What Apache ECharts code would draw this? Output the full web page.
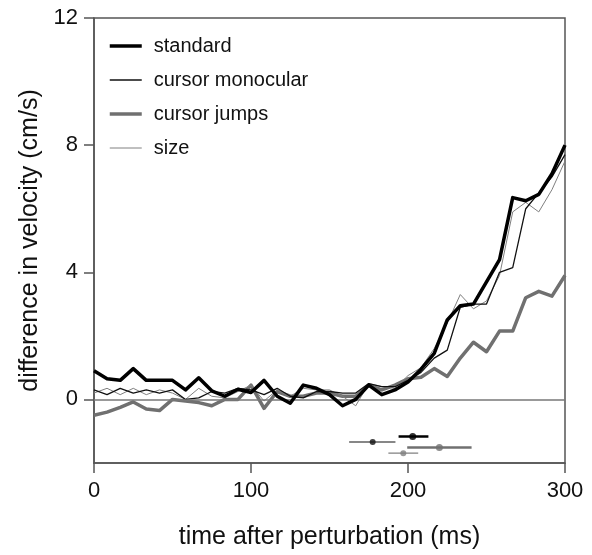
<!DOCTYPE html>
<html>
<head>
<meta charset="utf-8">
<script src="https://cdn.jsdelivr.net/npm/echarts@6/dist/echarts.min.js"></script>
<style>
  html, body { margin: 0; padding: 0; background: #fff; }
  #chart { width: 592px; height: 555px; }
</style>
</head>
<body>
<div id="chart"></div>
<script>
// sample times (ms), one every ~8.3 ms
const times = [0, 8.3, 16.7, 25, 33.3, 41.7, 50, 58.3, 66.7, 75, 83.3, 91.7, 100, 108.3, 116.7, 125,
    133.3, 141.7, 150, 158.3, 166.7, 175, 183.3, 191.7, 200, 208.3, 216.7, 225, 233.3, 241.7, 250,
    258.3, 266.7, 275, 283.3, 291.7, 300];

const standard = [0.9, 0.65, 0.6, 0.97, 0.6, 0.6, 0.6, 0.3, 0.68, 0.27, 0.1, 0.32, 0.22, 0.6, 0.1, -0.12,
    0.45, 0.35, 0.15, -0.2, 0.0, 0.45, 0.15, 0.3, 0.55, 0.95, 1.45, 2.5, 2.95, 3.0, 3.7,
    4.4, 6.35, 6.25, 6.45, 7.1, 8.0];
const cursorMonocular = [0.3, 0.15, 0.35, 0.2, 0.3, 0.2, 0.3, 0.0, 0.05, 0.25, 0.2, 0.35, 0.3, 0.15, 0.35, 0.1,
    0.05, 0.25, 0.25, 0.2, 0.2, 0.5, 0.4, 0.4, 0.6, 0.85, 1.3, 1.55, 2.9, 3.0, 3.0,
    4.0, 4.15, 6.0, 6.5, 7.0, 7.7];
const cursorJumps = [-0.5, -0.4, -0.25, -0.08, -0.3, -0.35, 0.0, -0.05, -0.1, -0.2, 0.0, 0.0, 0.45, -0.28, 0.25, 0.1,
    0.1, 0.2, 0.2, 0.1, 0.1, 0.45, 0.3, 0.45, 0.65, 0.7, 0.97, 0.72, 1.3, 1.8, 1.5,
    2.15, 2.15, 3.2, 3.4, 3.25, 3.9];
const size = [0.2, 0.35, 0.15, 0.35, 0.15, 0.3, 0.2, 0.0, 0.35, 0.1, 0.05, 0.25, 0.45, -0.05, 0.3, 0.1,
    0.35, 0.3, 0.3, 0.1, -0.2, 0.5, 0.4, 0.35, 0.75, 1.0, 1.6, 2.4, 3.3, 2.85, 3.1,
    3.9, 5.9, 6.2, 5.9, 6.6, 7.5];

// latency estimates shown under the curves (mean and range, ms)
const errNames = ['standard', 'cursor monocular', 'cursor jumps', 'size'];
const errMean = [203, 177.5, 220, 197];
const errLo = [194, 162.5, 199.5, 187.5];
const errHi = [213, 192, 240.5, 206.5];
const errY = [-1.17, -1.34, -1.51, -1.69];

const xTicks = [0, 100, 200, 300];
const yTicks = [0, 4, 8, 12];

const FONT = 'Liberation Sans, Arial, Helvetica, sans-serif';

const styles = {
    'standard': { color: '#000000', width: 3.5, dot: 7 },
    'cursor monocular': { color: '#111111', width: 1.3, dot: 6 },
    'cursor jumps': { color: '#707070', width: 3.5, dot: 7 },
    'size': { color: '#808080', width: 1.0, dot: 6 }
};

function pairs(ys) {
    return ys.map((v, i) => [times[i], v]);
}

function curve(name, ys, z) {
    const s = styles[name];
    return {
        name: name,
        type: 'line',
        data: pairs(ys),
        symbol: 'none',
        z: z,
        lineStyle: { color: s.color, width: s.width, join: 'round' },
        itemStyle: { color: s.color }
    };
}

const series = [
    curve('cursor jumps', cursorJumps, 2),
    curve('size', size, 3),
    curve('cursor monocular', cursorMonocular, 4),
    curve('standard', standard, 5)
];

// zero line
series[0].markLine = {
    silent: true,
    symbol: 'none',
    label: { show: false },
    lineStyle: { color: '#777', width: 1.5, type: 'solid' },
    data: [{ yAxis: 0 }]
};

// range bars + mean dots
errNames.forEach(function (n, i) {
    const s = styles[n];
    series.push({
        name: n + ' range',
        type: 'line',
        data: [[errLo[i], errY[i]], [errHi[i], errY[i]]],
        symbol: 'none',
        z: 6,
        lineStyle: { color: s.color, width: s.width > 2 ? 2.5 : 1.2 }
    });
    series.push({
        name: n + ' mean',
        type: 'scatter',
        data: [[errMean[i], errY[i]]],
        symbolSize: s.dot,
        z: 7,
        itemStyle: { color: s.color }
    });
});

const legendData = errNames.map(function (n) {
    return { name: n, lineStyle: { color: styles[n].color, width: styles[n].width } };
});

const chart = echarts.init(document.getElementById('chart'));

const option = {
    animation: false,
    backgroundColor: '#fff',
    textStyle: { fontFamily: FONT },
    grid: {
        left: 94, right: 27, top: 18, bottom: 90,
        show: true, borderColor: '#555', borderWidth: 1.5
    },
    legend: {
        data: legendData,
        orient: 'vertical',
        left: 108,
        top: 36,
        padding: 0,
        itemWidth: 32,
        itemHeight: 14,
        itemGap: 14,
        itemStyle: { opacity: 0 },
        textStyle: { fontFamily: FONT, fontSize: 20, color: '#111', padding: [0, 0, 0, 7] }
    },
    xAxis: {
        type: 'value',
        min: 0,
        max: 300,
        interval: 100,
        name: 'time after perturbation (ms)',
        nameLocation: 'middle',
        nameGap: 62,
        nameTextStyle: { fontFamily: FONT, fontSize: 25, color: '#111' },
        splitLine: { show: false },
        axisLine: { show: true, onZero: false, lineStyle: { color: '#555', width: 1.5 } },
        axisTick: { show: true, length: 10, lineStyle: { color: '#555', width: 1.5 }, customValues: xTicks },
        axisLabel: { fontFamily: FONT, fontSize: 22, color: '#111', margin: 17, customValues: xTicks }
    },
    yAxis: {
        type: 'value',
        min: -2,
        max: 12,
        name: 'difference in velocity (cm/s)',
        nameLocation: 'middle',
        nameGap: 50,
        nameTextStyle: { fontFamily: FONT, fontSize: 25, color: '#111' },
        splitLine: { show: false },
        axisLine: { show: true, onZero: false, lineStyle: { color: '#555', width: 1.5 } },
        axisTick: { show: true, length: 10, lineStyle: { color: '#555', width: 1.5 }, customValues: yTicks },
        axisLabel: { fontFamily: FONT, fontSize: 22, color: '#111', margin: 16, customValues: yTicks }
    },
    series: series
};

chart.setOption(option);
</script>
</body>
</html>
